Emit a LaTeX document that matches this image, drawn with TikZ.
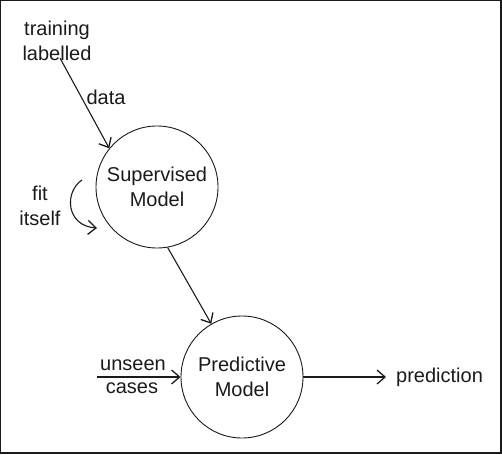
\documentclass[tikz,border=0pt]{standalone}
\usepackage{fontspec}
\setmainfont{Liberation Sans}
\usetikzlibrary{arrows.meta}
\definecolor{ink}{HTML}{1A1A1A}
\begin{document}
\begin{tikzpicture}[x=1pt,y=-1pt,
  txt/.style={font=\fontsize{20}{25}\selectfont, text=ink, inner sep=0pt, align=center},
  model/.style={circle, draw=ink, line width=0.9pt, minimum size=122pt, inner sep=0pt,
    font=\fontsize{20}{25}\selectfont, text=ink, align=center},
  flow/.style={draw=ink, line width=1.1pt, -{Straight Barb[length=8pt,width=14pt,line width=1.3pt]}}
]
\useasboundingbox (0,0) rectangle (502,454);
% frame
\draw[line width=1.2pt, ink] (0.6,454) -- (0.6,0.6) -- (502,0.6);
\draw[line width=2pt, ink] (0,453) -- (501,453) -- (501,0);

\node[model] (sup) at (157,187) {Supervised\\Model};
\node[model] (pred) at (242,377) {Predictive\\Model};

\node[txt] (train) at (57,41) {training\\labelled};
\node[txt] (data) at (106,97) {data};
\node[txt] (fit) at (40,206) {fit\\itself};
\node[txt] (unseen) at (133,365) {unseen};
\node[txt] (cases) at (132,388) {cases};
\node[txt, anchor=west] (out) at (396,377) {prediction};

\coordinate (uin) at (97,377);
\coordinate (fitA) at (82,180);
\coordinate (fitB) at (97,228);

\draw[flow] ([xshift=3pt,yshift=3pt]train.south) -- (sup.141);
\draw[flow] (sup.-80) -- (pred.120);
\draw[flow] (uin) -- (pred.west);
\draw[flow, shorten >=10pt] (pred.east) -- (out.west);
\draw[flow] (fitA) .. controls (64,192) and (66,226) .. (fitB);
\end{tikzpicture}
\end{document}
